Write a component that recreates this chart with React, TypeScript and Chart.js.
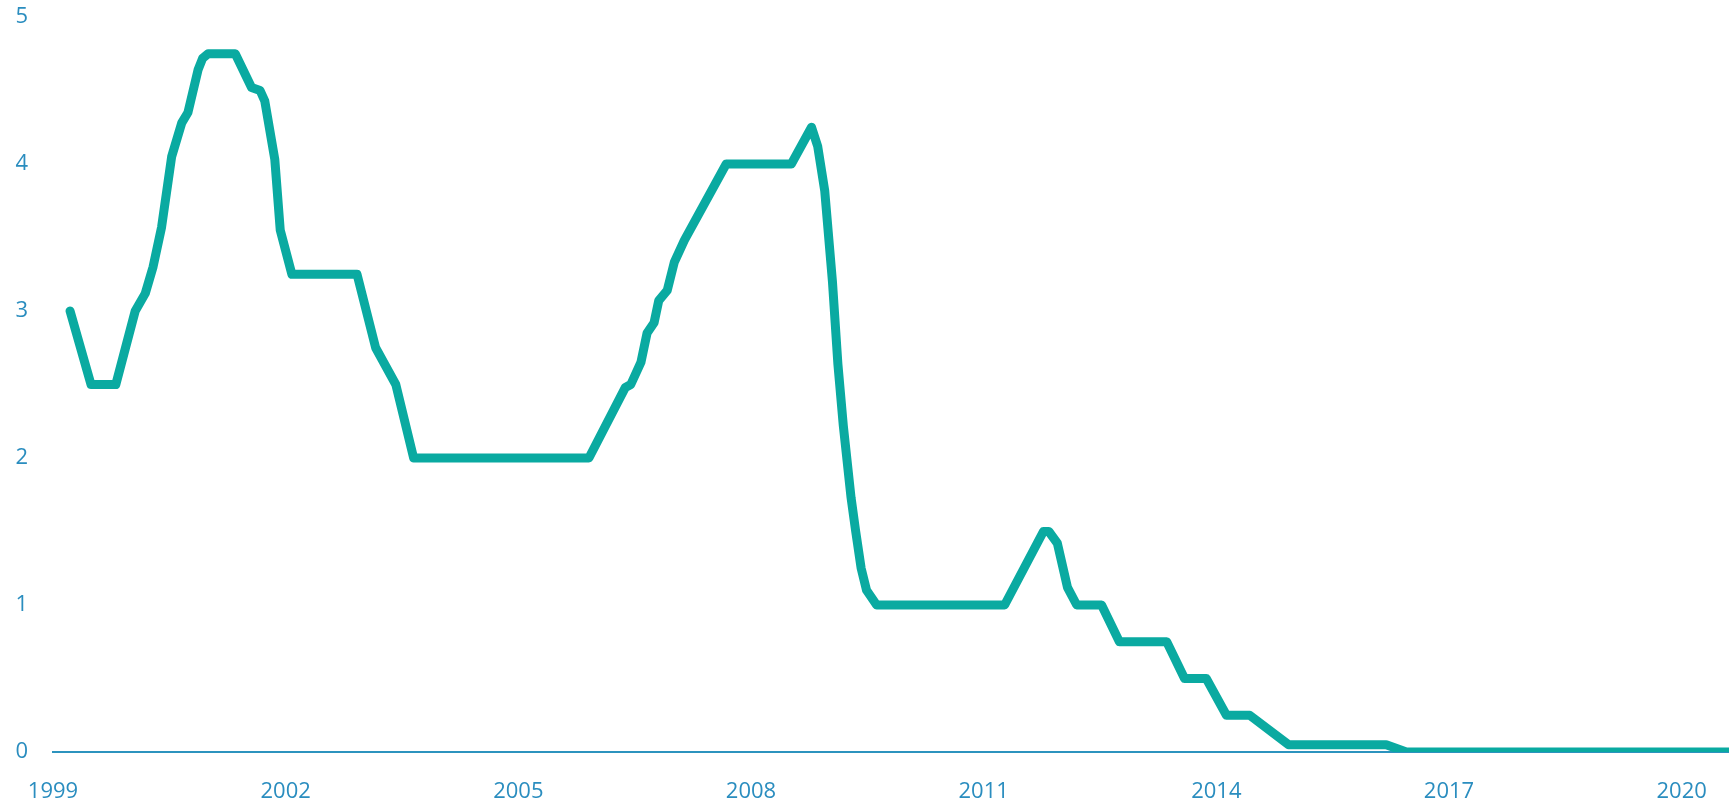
import React, { useEffect, useRef } from "react";
import { Chart, registerables } from "chart.js";

Chart.register(...registerables);

// Decimal year of each observation
const years = [
  1999.22, 1999.49, 1999.81, 2000.06, 2000.19, 2000.29, 2000.4, 2000.53, 2000.66, 2000.74,
  2000.87, 2000.93, 2001.0, 2001.35, 2001.56, 2001.67, 2001.73, 2001.86, 2001.93, 2002.08,
  2002.92, 2003.16, 2003.42, 2003.65, 2005.91, 2006.38, 2006.45, 2006.58, 2006.66, 2006.75,
  2006.81, 2006.92, 2007.01, 2007.14, 2007.68, 2008.52, 2008.78, 2008.86, 2008.95, 2009.05,
  2009.12, 2009.19, 2009.29, 2009.35, 2009.42, 2009.49, 2009.62, 2011.27, 2011.77, 2011.84,
  2011.95, 2012.08, 2012.2, 2012.52, 2012.75, 2013.36, 2013.59, 2013.87, 2014.13, 2014.43,
  2014.93, 2016.19, 2016.45, 2020.7,
];

// Rate (%) at each observation
const rates = [
  3.0, 2.5, 2.5, 3.0, 3.12, 3.3, 3.57, 4.05, 4.28, 4.35,
  4.64, 4.72, 4.75, 4.75, 4.52, 4.5, 4.43, 4.03, 3.55, 3.25,
  3.25, 2.75, 2.5, 2.0, 2.0, 2.48, 2.5, 2.65, 2.85, 2.92,
  3.07, 3.14, 3.33, 3.48, 4.0, 4.0, 4.25, 4.12, 3.82, 3.2,
  2.64, 2.22, 1.73, 1.5, 1.25, 1.1, 1.0, 1.0, 1.5, 1.5,
  1.42, 1.12, 1.0, 1.0, 0.75, 0.75, 0.5, 0.5, 0.25, 0.25,
  0.05, 0.05, 0.0, 0.0,
];

const xTickYears = [1999, 2002, 2005, 2008, 2011, 2014, 2017, 2020];
const yTickValues = [0, 1, 2, 3, 4, 5];

const LABEL_COLOR = "#2a8dbf";
const LINE_COLOR = "#0aaaa1";
const FONT = { family: "'Open Sans', 'Noto Sans', sans-serif", size: 22 };

export default function App() {
  const ref = useRef<HTMLCanvasElement>(null);

  useEffect(() => {
    if (!ref.current) return;
    const chart = new Chart(ref.current, {
      type: "line",
      data: {
        datasets: [
          {
            data: years.map((x, i) => ({ x, y: rates[i] })),
            borderColor: LINE_COLOR,
            borderWidth: 9,
            pointRadius: 0,
            tension: 0,
            borderJoinStyle: "round",
            borderCapStyle: "round",
            fill: false,
          },
        ],
      },
      options: {
        animation: false,
        responsive: true,
        maintainAspectRatio: false,
        layout: { padding: { top: 17, right: 0, bottom: 0, left: 0 } },
        plugins: { legend: { display: false }, tooltip: { enabled: false } },
        scales: {
          x: {
            type: "linear",
            min: 1999,
            max: 2020.61,
            grid: { display: false, drawTicks: false },
            border: { display: true, color: "#2c93be", width: 2 },
            ticks: {
              color: LABEL_COLOR,
              font: FONT,
              padding: 27,
              maxRotation: 0,
              autoSkip: false,
              callback: (v: any) => String(v),
            },
            afterBuildTicks: (s: any) => {
              s.ticks = xTickYears.map((v) => ({ value: v }));
            },
            afterFit: (s: any) => {
              s.height = 47;
              s.paddingLeft = 0;
              s.paddingRight = 0;
            },
          },
          y: {
            min: 0,
            max: 5,
            grid: { display: false, drawTicks: false },
            border: { display: false },
            ticks: {
              color: LABEL_COLOR,
              font: FONT,
              padding: 25,
              callback: (v: any) => String(v),
            },
            afterBuildTicks: (s: any) => {
              s.ticks = yTickValues.map((v) => ({ value: v }));
            },
            afterFit: (s: any) => {
              s.width = 53;
              s.paddingTop = 0;
              s.paddingBottom = 0;
            },
          },
        },
      },
    });
    return () => chart.destroy();
  }, []);

  return (
    <div style={{ position: "fixed", left: 0, top: 0, width: 1729, height: 799, background: "#fff" }}>
      <canvas ref={ref} />
    </div>
  );
}
